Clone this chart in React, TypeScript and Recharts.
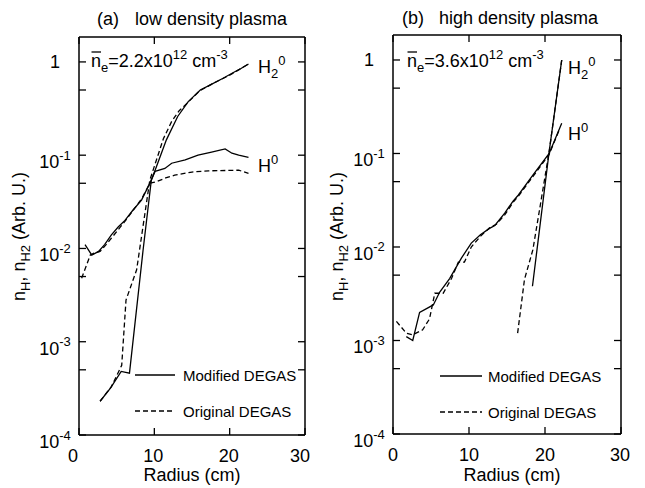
import React from 'react';
import { LineChart, Line, XAxis, YAxis } from 'recharts';

const FONT = '"Liberation Sans", Arial, Helvetica, sans-serif';

// ---------- data: radius (cm) vs density (arb. units) ----------
// (a) low density plasma
const lowH2Modified = [
  { r: 2.8, v: 0.00023 }, { r: 4.2, v: 0.00032 }, { r: 5.6, v: 0.00048 }, { r: 6.7, v: 0.00046 },
  { r: 8.5, v: 0.0095 }, { r: 9.6, v: 0.054 }, { r: 10.3, v: 0.076 }, { r: 11.6, v: 0.146 },
  { r: 13.1, v: 0.26 }, { r: 14.5, v: 0.375 }, { r: 16.1, v: 0.5 }, { r: 17.5, v: 0.57 },
  { r: 19.0, v: 0.66 }, { r: 20.5, v: 0.77 }, { r: 21.5, v: 0.85 }, { r: 22.5, v: 0.95 },
];
const lowH2Original = [
  { r: 2.8, v: 0.00023 }, { r: 4.3, v: 0.00033 }, { r: 5.67, v: 0.00056 }, { r: 6.24, v: 0.0028 },
  { r: 7.65, v: 0.0059 }, { r: 9.4, v: 0.054 }, { r: 10.2, v: 0.085 }, { r: 11.2, v: 0.15 },
  { r: 12.3, v: 0.23 }, { r: 13.3, v: 0.3 }, { r: 14.5, v: 0.37 }, { r: 16.0, v: 0.49 },
  { r: 18.0, v: 0.6 }, { r: 20.0, v: 0.72 }, { r: 22.5, v: 0.95 },
];
const lowHModified = [
  { r: 0.8, v: 0.011 }, { r: 1.7, v: 0.0085 }, { r: 2.6, v: 0.0093 }, { r: 3.4, v: 0.011 },
  { r: 4.3, v: 0.014 }, { r: 5.2, v: 0.017 }, { r: 6.1, v: 0.02 }, { r: 7.2, v: 0.026 },
  { r: 8.3, v: 0.033 }, { r: 9.4, v: 0.05 }, { r: 10.1, v: 0.067 }, { r: 11.4, v: 0.072 },
  { r: 12.3, v: 0.082 }, { r: 14.1, v: 0.089 }, { r: 15.8, v: 0.1 }, { r: 17.6, v: 0.108 },
  { r: 19.4, v: 0.117 }, { r: 20.3, v: 0.105 }, { r: 21.2, v: 0.1 }, { r: 22.5, v: 0.095 },
];
const lowHOriginal = [
  { r: 0.35, v: 0.0048 }, { r: 1.5, v: 0.0085 }, { r: 2.0, v: 0.0089 }, { r: 2.8, v: 0.0093 },
  { r: 3.6, v: 0.011 }, { r: 4.5, v: 0.0135 }, { r: 5.5, v: 0.017 }, { r: 6.4, v: 0.021 },
  { r: 7.4, v: 0.027 }, { r: 8.4, v: 0.035 }, { r: 9.4, v: 0.05 }, { r: 10.3, v: 0.052 },
  { r: 11.5, v: 0.057 }, { r: 12.7, v: 0.061 }, { r: 15.0, v: 0.066 }, { r: 17.2, v: 0.068 },
  { r: 21.2, v: 0.069 }, { r: 22.5, v: 0.064 },
];
// (b) high density plasma
const highH2Modified = [
  { r: 18.35, v: 0.0038 }, { r: 20.55, v: 0.105 }, { r: 22.2, v: 1.0 },
];
const highH2Original = [
  { r: 16.4, v: 0.0012 }, { r: 17.3, v: 0.0045 }, { r: 18.4, v: 0.0093 }, { r: 19.5, v: 0.032 },
  { r: 20.55, v: 0.105 }, { r: 22.2, v: 1.0 },
];
const highHModified = [
  { r: 1.75, v: 0.0011 }, { r: 2.6, v: 0.001 }, { r: 3.5, v: 0.002 }, { r: 5.3, v: 0.0024 },
  { r: 6.15, v: 0.0033 }, { r: 7.45, v: 0.0046 }, { r: 9.0, v: 0.0076 }, { r: 10.3, v: 0.011 },
  { r: 11.5, v: 0.0135 }, { r: 12.7, v: 0.0158 }, { r: 13.4, v: 0.017 }, { r: 14.7, v: 0.023 },
  { r: 15.8, v: 0.031 }, { r: 16.5, v: 0.036 }, { r: 18.5, v: 0.06 }, { r: 20.55, v: 0.1 },
  { r: 22.2, v: 0.21 },
];
const highHOriginal = [
  { r: 0.45, v: 0.0016 }, { r: 1.75, v: 0.0012 }, { r: 2.6, v: 0.00115 }, { r: 3.9, v: 0.0013 },
  { r: 4.8, v: 0.0017 }, { r: 5.5, v: 0.0032 }, { r: 6.6, v: 0.0032 }, { r: 7.7, v: 0.0046 },
  { r: 8.6, v: 0.0069 }, { r: 9.4, v: 0.0069 }, { r: 10.3, v: 0.01 }, { r: 11.5, v: 0.013 },
  { r: 12.7, v: 0.016 }, { r: 13.6, v: 0.0175 }, { r: 14.7, v: 0.022 }, { r: 15.8, v: 0.03 },
  { r: 16.5, v: 0.035 }, { r: 18.5, v: 0.058 }, { r: 20.55, v: 0.098 }, { r: 21.95, v: 0.185 },
];

const radiusTicks = [0, 10, 20, 30];
const densityTicks = [1e-4, 5e-4, 1e-3, 5e-3, 1e-2, 5e-2, 1e-1, 5e-1, 1];
const majorDensityTicks = [1e-4, 1e-3, 1e-2, 1e-1, 1];
const densityDomain = [1e-4, 1.85];
const legendItems = [
  { label: 'Modified DEGAS', dash: undefined as string | undefined },
  { label: 'Original DEGAS', dash: '5 3' },
];

const TICK = 7;
const isMajor = (v: number) =>
  majorDensityTicks.some((m) => Math.abs(Math.log10(v) - Math.log10(m)) < 1e-6);

const LeftTick = (props: any) => {
  const { x, y, payload } = props;
  const v = payload.value;
  const exp = Math.round(Math.log10(v));
  return (
    <g>
      <line x1={x} x2={x + TICK} y1={y} y2={y} stroke="#000" strokeWidth={1.3} />
      {isMajor(v) &&
        (exp === 0 ? (
          <text x={x - 24} y={y + 6.5} textAnchor="middle" fontSize={18} fontFamily={FONT} fill="#000">1</text>
        ) : (
          <text x={x - 24} y={y + 13} textAnchor="middle" fontSize={18} fontFamily={FONT} fill="#000">
            10<tspan fontSize={13} dy={-8.5}>{`-${-exp}`}</tspan>
          </text>
        ))}
    </g>
  );
};
const RightTick = (props: any) => {
  const { x, y } = props;
  return <line x1={x - TICK} x2={x} y1={y} y2={y} stroke="#000" strokeWidth={1.3} />;
};
const TopTick = (props: any) => {
  const { x, y } = props;
  return <line x1={x} x2={x} y1={y} y2={y + TICK} stroke="#000" strokeWidth={1.3} />;
};
const makeBottomTick = (offsets: number[]) => (props: any) => {
  const { x, y, payload, index } = props;
  return (
    <g>
      <line x1={x} x2={x} y1={y - TICK} y2={y} stroke="#000" strokeWidth={1.3} />
      <text x={x + (offsets[index] || 0)} y={y + 27} textAnchor="middle" fontSize={18} fontFamily={FONT} fill="#000">
        {payload.value}
      </text>
    </g>
  );
};

const AXIS_LINE = { stroke: '#000', strokeWidth: 1.5 };

type Series = { data: { r: number; v: number }[]; dash?: string };

const Panel = ({ series, margin, width, offsets }: { series: Series[]; margin: any; width: number; offsets: number[] }) => (
  <LineChart width={width} height={488} margin={margin}>
    <XAxis
      type="number" dataKey="r" domain={[0, 30]} ticks={radiusTicks} interval={0} height={30}
      tickSize={0} tickMargin={0} tickLine={false} axisLine={AXIS_LINE} tick={makeBottomTick(offsets)} allowDataOverflow
    />
    <XAxis
      xAxisId="top" orientation="top" type="number" dataKey="r" domain={[0, 30]} ticks={radiusTicks} interval={0} height={10}
      tickSize={0} tickMargin={0} tickLine={false} axisLine={AXIS_LINE} tick={TopTick} allowDataOverflow
    />
    <YAxis
      type="number" scale="log" domain={densityDomain} ticks={densityTicks} interval={0} width={60}
      tickSize={0} tickMargin={0} tickLine={false} axisLine={AXIS_LINE} tick={LeftTick} allowDataOverflow
    />
    <YAxis
      yAxisId="right" orientation="right" type="number" scale="log" domain={densityDomain} ticks={densityTicks} interval={0} width={10}
      tickSize={0} tickMargin={0} tickLine={false} axisLine={AXIS_LINE} tick={RightTick} allowDataOverflow
    />
    {series.map((s, i) => (
      <Line
        key={i} data={s.data} dataKey="v" type="linear" dot={false} activeDot={false}
        stroke="#000" strokeWidth={1.3} strokeDasharray={s.dash} isAnimationActive={false}
      />
    ))}
  </LineChart>
);

const Density = ({ x, y, value }: { x: number; y: number; value: string }) => (
  <g>
    <line x1={x + 0.5} x2={x + 10} y1={y - 15} y2={y - 15} stroke="#000" strokeWidth={1.3} />
    <text x={x} y={y} fontSize={18} fontFamily={FONT} fill="#000">
      n<tspan fontSize={13} dy={5}>e</tspan>
      <tspan dy={-5}>{`=${value}x10`}</tspan>
      <tspan fontSize={13} dy={-8}>12</tspan>
      <tspan dy={8}>{' cm'}</tspan>
      <tspan fontSize={13} dy={-8}>-3</tspan>
    </text>
  </g>
);

const SpeciesLabel = ({ x, y, h2 }: { x: number; y: number; h2: boolean }) => (
  <text x={x} y={y} fontSize={18} fontFamily={FONT} fill="#000">
    H
    {h2 ? (
      <>
        <tspan fontSize={13} dy={5}>2</tspan>
        <tspan fontSize={13} dy={-13}>0</tspan>
      </>
    ) : (
      <tspan fontSize={13} dy={-8}>0</tspan>
    )}
  </text>
);

const YTitle = ({ cx, cy }: { cx: number; cy: number }) => (
  <text x={cx} y={cy} textAnchor="middle" fontSize={18} fontFamily={FONT} fill="#000" transform={`rotate(-90 ${cx} ${cy})`}>
    n<tspan fontSize={13} dy={5}>H</tspan>
    <tspan dy={-5}>, n</tspan>
    <tspan fontSize={13} dy={5}>H2</tspan>
    <tspan dy={-5}>{' (Arb. U.)'}</tspan>
  </text>
);

const LegendBox = ({ x1, x2, ys, tx }: { x1: number; x2: number; ys: number[]; tx: number }) => (
  <g>
    {legendItems.map((it, i) => (
      <g key={it.label}>
        <line x1={x1} x2={x2} y1={ys[i]} y2={ys[i]} stroke="#000" strokeWidth={1.3} strokeDasharray={it.dash} />
        <text x={tx} y={ys[i] + 5.5} fontSize={15} fontFamily={FONT} fill="#000">{it.label}</text>
      </g>
    ))}
  </g>
);

export default function App() {
  const txt = { fontSize: 18, fontFamily: FONT, fill: '#000' };
  return (
    <div style={{ position: 'absolute', left: 0, top: 0, width: 645, height: 488, background: '#fff' }}>
      <div style={{ position: 'absolute', left: 0, top: 0 }}>
        <Panel
          width={322}
          margin={{ top: 27, right: 7, bottom: 23, left: 19 }}
          offsets={[-6, -1, -1, -5]}
          series={[
            { data: lowH2Modified }, { data: lowH2Original, dash: '5 3' },
            { data: lowHModified }, { data: lowHOriginal, dash: '5 3' },
          ]}
        />
      </div>
      <div style={{ position: 'absolute', left: 322, top: 0 }}>
        <Panel
          width={323}
          margin={{ top: 25, right: 14, bottom: 24, left: 11 }}
          offsets={[0, 0, 0, -1]}
          series={[
            { data: highH2Modified }, { data: highH2Original, dash: '5 3' },
            { data: highHModified }, { data: highHOriginal, dash: '5 3' },
          ]}
        />
      </div>
      <svg width={645} height={488} style={{ position: 'absolute', left: 0, top: 0, pointerEvents: 'none' }}>
        <text x={97} y={25} {...txt}>(a)</text>
        <text x={135} y={25} {...txt}>low density plasma</text>
        <text x={402} y={24} {...txt}>(b)</text>
        <text x={439} y={24} {...txt}>high density plasma</text>

        <Density x={91} y={67} value="2.2" />
        <Density x={407} y={67} value="3.6" />

        <SpeciesLabel x={258} y={73} h2 />
        <SpeciesLabel x={258} y={172} h2={false} />
        <SpeciesLabel x={568} y={74} h2 />
        <SpeciesLabel x={568} y={140} h2={false} />

        <YTitle cx={25} cy={236.5} />
        <YTitle cx={343} cy={236.5} />

        <text x={192} y={481} textAnchor="middle" {...txt}>Radius (cm)</text>
        <text x={512} y={481} textAnchor="middle" {...txt}>Radius (cm)</text>

        <LegendBox x1={135} x2={175} ys={[375, 411]} tx={183} />
        <LegendBox x1={440} x2={482} ys={[376, 412]} tx={488} />
      </svg>
    </div>
  );
}
